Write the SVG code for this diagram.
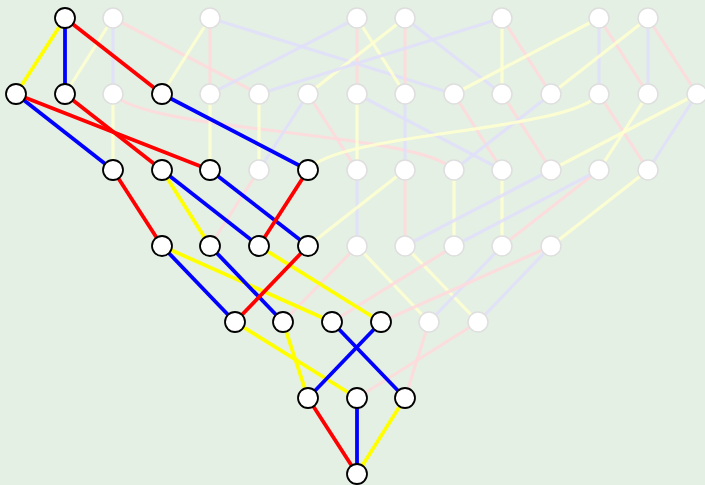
<svg xmlns="http://www.w3.org/2000/svg" width="705" height="485" viewBox="0 0 705 485">
  <style>
    .e { fill: none; stroke-linecap: butt; }
    .f { stroke-width: 3.2; stroke-opacity: 0.85; }
    .f.r { stroke: #ffd9dc; }
    .f.b { stroke: #e1dffa; }
    .f.y { stroke: #ffffd0; }
    .h { stroke-width: 3.8; }
    .h.r { stroke: #ff0000; }
    .h.b { stroke: #0000ff; }
    .h.y { stroke: #ffff00; }
    .node circle { fill: #ffffff; }
    .on circle { stroke: #000000; stroke-width: 1.8; }
    .off circle { stroke: #dedede; stroke-width: 1.5; }
  </style>
  <rect x="0" y="0" width="705" height="485" fill="#e5f0e4"/>

  <g id="connectors">
    <!-- dimmed edges -->
    <g id="dim-edges">
      <line class="e f y" x1="113" y1="18" x2="65" y2="94"/>
      <line class="e f b" x1="113" y1="18" x2="113" y2="94"/>
      <line class="e f r" x1="113" y1="18" x2="259" y2="94"/>
      <line class="e f y" x1="210" y1="18" x2="162" y2="94"/>
      <line class="e f r" x1="210" y1="18" x2="210" y2="94"/>
      <line class="e f b" x1="210" y1="18" x2="454" y2="94"/>
      <line class="e f b" x1="357" y1="18" x2="210" y2="94"/>
      <line class="e f r" x1="357" y1="18" x2="357" y2="94"/>
      <line class="e f y" x1="357" y1="18" x2="405" y2="94"/>
      <line class="e f y" x1="405" y1="18" x2="308" y2="94"/>
      <line class="e f r" x1="405" y1="18" x2="405" y2="94"/>
      <line class="e f b" x1="405" y1="18" x2="502" y2="94"/>
      <line class="e f b" x1="502" y1="18" x2="259" y2="94"/>
      <line class="e f y" x1="502" y1="18" x2="502" y2="94"/>
      <line class="e f r" x1="502" y1="18" x2="551" y2="94"/>
      <line class="e f y" x1="599" y1="18" x2="454" y2="94"/>
      <line class="e f b" x1="599" y1="18" x2="599" y2="94"/>
      <line class="e f r" x1="599" y1="18" x2="648" y2="94"/>
      <line class="e f y" x1="648" y1="18" x2="551" y2="94"/>
      <line class="e f b" x1="648" y1="18" x2="648" y2="94"/>
      <line class="e f r" x1="648" y1="18" x2="697" y2="94"/>

      <line class="e f y" x1="113" y1="94" x2="113" y2="170"/>
      <path class="e f r" d="M113,94 C147,132 420,132 454,170"/>
      <line class="e f y" x1="210" y1="94" x2="210" y2="170"/>
      <line class="e f y" x1="259" y1="94" x2="259" y2="170"/>
      <line class="e f b" x1="308" y1="94" x2="259" y2="170"/>
      <line class="e f r" x1="308" y1="94" x2="357" y2="170"/>
      <line class="e f y" x1="357" y1="94" x2="357" y2="170"/>
      <line class="e f b" x1="357" y1="94" x2="502" y2="170"/>
      <line class="e f b" x1="405" y1="94" x2="405" y2="170"/>
      <line class="e f r" x1="454" y1="94" x2="502" y2="170"/>
      <line class="e f r" x1="502" y1="94" x2="551" y2="170"/>
      <line class="e f b" x1="551" y1="94" x2="454" y2="170"/>
      <path class="e f y" d="M308,170 C337,132 570,132 599,94"/>
      <line class="e f r" x1="599" y1="94" x2="648" y2="170"/>
      <line class="e f y" x1="648" y1="94" x2="599" y2="170"/>
      <line class="e f y" x1="697" y1="94" x2="551" y2="170"/>
      <line class="e f b" x1="697" y1="94" x2="648" y2="170"/>

      <line class="e f r" x1="259" y1="170" x2="210" y2="246"/>
      <line class="e f b" x1="357" y1="170" x2="357" y2="246"/>
      <line class="e f y" x1="405" y1="170" x2="308" y2="246"/>
      <line class="e f r" x1="405" y1="170" x2="405" y2="246"/>
      <line class="e f y" x1="454" y1="170" x2="454" y2="246"/>
      <line class="e f y" x1="502" y1="170" x2="502" y2="246"/>
      <line class="e f b" x1="551" y1="170" x2="405" y2="246"/>
      <line class="e f r" x1="599" y1="170" x2="502" y2="246"/>
      <line class="e f b" x1="599" y1="170" x2="454" y2="246"/>
      <line class="e f y" x1="648" y1="170" x2="551" y2="246"/>

      <line class="e f r" x1="357" y1="246" x2="283" y2="322"/>
      <line class="e f y" x1="357" y1="246" x2="429" y2="322"/>
      <line class="e f y" x1="405" y1="246" x2="478" y2="322"/>
      <line class="e f r" x1="454" y1="246" x2="332" y2="322"/>
      <line class="e f b" x1="502" y1="246" x2="429" y2="322"/>
      <line class="e f r" x1="551" y1="246" x2="381" y2="322"/>
      <line class="e f b" x1="551" y1="246" x2="478" y2="322"/>

      <line class="e f r" x1="429" y1="322" x2="405" y2="398"/>
      <line class="e f r" x1="478" y1="322" x2="357" y2="398"/>
    </g>

    <!-- highlighted edges -->
    <g id="lit-edges">
      <line class="e h y" x1="65" y1="18" x2="16" y2="94"/>
      <line class="e h b" x1="65" y1="18" x2="65" y2="94"/>
      <line class="e h r" x1="65" y1="18" x2="162" y2="94"/>

      <line class="e h b" x1="16" y1="94" x2="113" y2="170"/>
      <line class="e h r" x1="16" y1="94" x2="210" y2="170"/>
      <line class="e h r" x1="65" y1="94" x2="162" y2="170"/>
      <line class="e h b" x1="162" y1="94" x2="308" y2="170"/>

      <line class="e h r" x1="113" y1="170" x2="162" y2="246"/>
      <line class="e h y" x1="162" y1="170" x2="210" y2="246"/>
      <line class="e h b" x1="162" y1="170" x2="259" y2="246"/>
      <line class="e h b" x1="210" y1="170" x2="308" y2="246"/>
      <line class="e h r" x1="308" y1="170" x2="259" y2="246"/>

      <line class="e h b" x1="162" y1="246" x2="235" y2="322"/>
      <line class="e h y" x1="162" y1="246" x2="332" y2="322"/>
      <line class="e h b" x1="210" y1="246" x2="283" y2="322"/>
      <line class="e h y" x1="259" y1="246" x2="381" y2="322"/>
      <line class="e h r" x1="308" y1="246" x2="235" y2="322"/>

      <line class="e h y" x1="235" y1="322" x2="357" y2="398"/>
      <line class="e h y" x1="283" y1="322" x2="308" y2="398"/>
      <line class="e h b" x1="332" y1="322" x2="405" y2="398"/>
      <line class="e h b" x1="381" y1="322" x2="308" y2="398"/>

      <line class="e h r" x1="308" y1="398" x2="357" y2="474"/>
      <line class="e h b" x1="357" y1="398" x2="357" y2="474"/>
      <line class="e h y" x1="405" y1="398" x2="357" y2="474"/>
    </g>
  </g>

  <g id="nodes">
    <!-- level 0 -->
    <g id="n0-65" class="node on"><circle cx="65" cy="18" r="10"/></g>
    <g id="n0-113" class="node off"><circle cx="113" cy="18" r="10"/></g>
    <g id="n0-210" class="node off"><circle cx="210" cy="18" r="10"/></g>
    <g id="n0-357" class="node off"><circle cx="357" cy="18" r="10"/></g>
    <g id="n0-405" class="node off"><circle cx="405" cy="18" r="10"/></g>
    <g id="n0-502" class="node off"><circle cx="502" cy="18" r="10"/></g>
    <g id="n0-599" class="node off"><circle cx="599" cy="18" r="10"/></g>
    <g id="n0-648" class="node off"><circle cx="648" cy="18" r="10"/></g>
    <!-- level 1 -->
    <g id="n1-16" class="node on"><circle cx="16" cy="94" r="10"/></g>
    <g id="n1-65" class="node on"><circle cx="65" cy="94" r="10"/></g>
    <g id="n1-113" class="node off"><circle cx="113" cy="94" r="10"/></g>
    <g id="n1-162" class="node on"><circle cx="162" cy="94" r="10"/></g>
    <g id="n1-210" class="node off"><circle cx="210" cy="94" r="10"/></g>
    <g id="n1-259" class="node off"><circle cx="259" cy="94" r="10"/></g>
    <g id="n1-308" class="node off"><circle cx="308" cy="94" r="10"/></g>
    <g id="n1-357" class="node off"><circle cx="357" cy="94" r="10"/></g>
    <g id="n1-405" class="node off"><circle cx="405" cy="94" r="10"/></g>
    <g id="n1-454" class="node off"><circle cx="454" cy="94" r="10"/></g>
    <g id="n1-502" class="node off"><circle cx="502" cy="94" r="10"/></g>
    <g id="n1-551" class="node off"><circle cx="551" cy="94" r="10"/></g>
    <g id="n1-599" class="node off"><circle cx="599" cy="94" r="10"/></g>
    <g id="n1-648" class="node off"><circle cx="648" cy="94" r="10"/></g>
    <g id="n1-697" class="node off"><circle cx="697" cy="94" r="10"/></g>
    <!-- level 2 -->
    <g id="n2-113" class="node on"><circle cx="113" cy="170" r="10"/></g>
    <g id="n2-162" class="node on"><circle cx="162" cy="170" r="10"/></g>
    <g id="n2-210" class="node on"><circle cx="210" cy="170" r="10"/></g>
    <g id="n2-259" class="node off"><circle cx="259" cy="170" r="10"/></g>
    <g id="n2-308" class="node on"><circle cx="308" cy="170" r="10"/></g>
    <g id="n2-357" class="node off"><circle cx="357" cy="170" r="10"/></g>
    <g id="n2-405" class="node off"><circle cx="405" cy="170" r="10"/></g>
    <g id="n2-454" class="node off"><circle cx="454" cy="170" r="10"/></g>
    <g id="n2-502" class="node off"><circle cx="502" cy="170" r="10"/></g>
    <g id="n2-551" class="node off"><circle cx="551" cy="170" r="10"/></g>
    <g id="n2-599" class="node off"><circle cx="599" cy="170" r="10"/></g>
    <g id="n2-648" class="node off"><circle cx="648" cy="170" r="10"/></g>
    <!-- level 3 -->
    <g id="n3-162" class="node on"><circle cx="162" cy="246" r="10"/></g>
    <g id="n3-210" class="node on"><circle cx="210" cy="246" r="10"/></g>
    <g id="n3-259" class="node on"><circle cx="259" cy="246" r="10"/></g>
    <g id="n3-308" class="node on"><circle cx="308" cy="246" r="10"/></g>
    <g id="n3-357" class="node off"><circle cx="357" cy="246" r="10"/></g>
    <g id="n3-405" class="node off"><circle cx="405" cy="246" r="10"/></g>
    <g id="n3-454" class="node off"><circle cx="454" cy="246" r="10"/></g>
    <g id="n3-502" class="node off"><circle cx="502" cy="246" r="10"/></g>
    <g id="n3-551" class="node off"><circle cx="551" cy="246" r="10"/></g>
    <!-- level 4 -->
    <g id="n4-235" class="node on"><circle cx="235" cy="322" r="10"/></g>
    <g id="n4-283" class="node on"><circle cx="283" cy="322" r="10"/></g>
    <g id="n4-332" class="node on"><circle cx="332" cy="322" r="10"/></g>
    <g id="n4-381" class="node on"><circle cx="381" cy="322" r="10"/></g>
    <g id="n4-429" class="node off"><circle cx="429" cy="322" r="10"/></g>
    <g id="n4-478" class="node off"><circle cx="478" cy="322" r="10"/></g>
    <!-- level 5 -->
    <g id="n5-308" class="node on"><circle cx="308" cy="398" r="10"/></g>
    <g id="n5-357" class="node on"><circle cx="357" cy="398" r="10"/></g>
    <g id="n5-405" class="node on"><circle cx="405" cy="398" r="10"/></g>
    <!-- level 6 -->
    <g id="n6-357" class="node on"><circle cx="357" cy="474" r="10"/></g>
  </g>
</svg>
